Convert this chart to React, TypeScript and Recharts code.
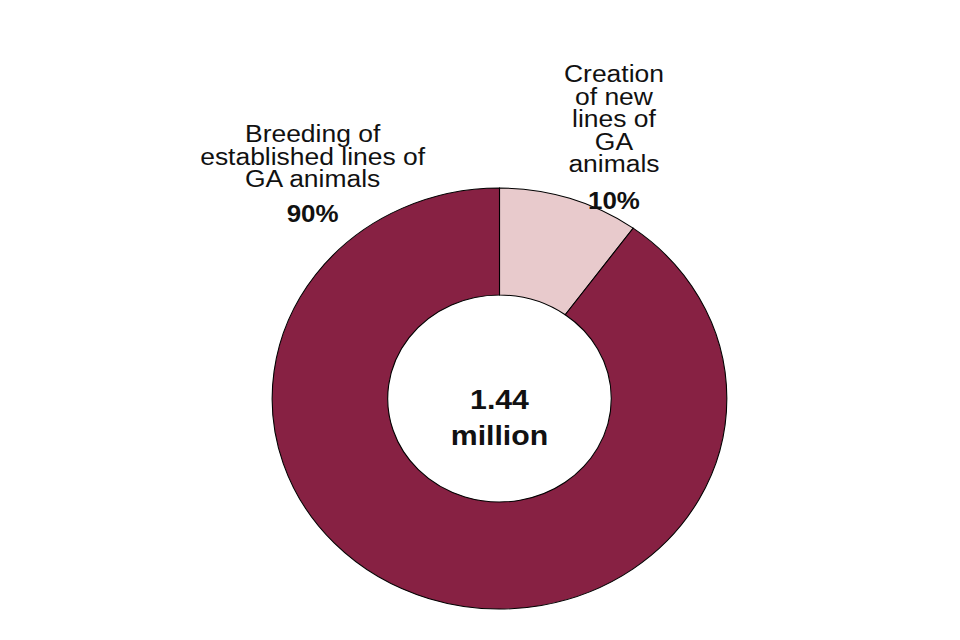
import React from 'react';
import { PieChart, Pie, Cell } from 'recharts';

const categories = ['Creation of new lines of GA animals', 'Breeding of established lines of GA animals'];
const shares = [10, 90];
const labelLines = [
  ['Creation', 'of new', 'lines of', 'GA', 'animals'],
  ['Breeding of', 'established lines of', 'GA animals'],
];
const totalLines = ['1.44', 'million'];

const colors = ['#E8CACC', '#872143'];

const data = categories.map((name, i) => ({ name, value: shares[i] }));

// label block positions relative to the pie centre (unscaled px)
const labelPos = [
  { dx: 106, top: -325, pctDy: -198 },
  { dx: -173, top: -265, pctDy: -185 },
];

const FONT = '"Liberation Sans", Arial, sans-serif';
const SX = 1.08;

const renderLabel = (props: any) => {
  const { cx, cy, index } = props;
  const pos = labelPos[index];
  const x = cx + pos.dx;
  return (
    <g key={`lbl-${index}`}>
      <text
        x={x}
        y={cy + pos.top}
        textAnchor="middle"
        dominantBaseline="central"
        fontFamily={FONT}
        fontSize={24.5}
        fill="#111"
      >
        {labelLines[index].map((t, i) => (
          <tspan key={i} x={x} dy={i === 0 ? 0 : 22.5}>
            {t}
          </tspan>
        ))}
      </text>
      <text
        x={x}
        y={cy + pos.pctDy}
        textAnchor="middle"
        dominantBaseline="central"
        fontFamily={FONT}
        fontSize={24}
        fontWeight="bold"
        fill="#111"
      >
        {shares[index]}%
      </text>
      {index === 0 && (
        <text
          x={cx}
          y={cy + 1}
          textAnchor="middle"
          dominantBaseline="central"
          fontFamily={FONT}
          fontSize={28}
          fontWeight="bold"
          fill="#111"
        >
          {totalLines.map((t, i) => (
            <tspan key={i} x={cx} dy={i === 0 ? 0 : 36}>
              {t}
            </tspan>
          ))}
        </text>
      )}
    </g>
  );
};

export default function App() {
  return (
    <div
      style={{
        position: 'absolute',
        left: 0,
        top: 0,
        width: 890,
        height: 640,
        background: '#fff',
        transform: `scaleX(${SX})`,
        transformOrigin: '0 0',
      }}
    >
      <PieChart width={890} height={640}>
        <Pie
          data={data}
          dataKey="value"
          nameKey="name"
          cx={457.5}
          cy={393.5}
          outerRadius={210.5}
          innerRadius={103.5}
          startAngle={90}
          endAngle={-270}
          stroke="#000"
          strokeWidth={1}
          label={renderLabel}
          labelLine={false}
          isAnimationActive={false}
        >
          {data.map((entry, index) => (
            <Cell key={`cell-${index}`} fill={colors[index]} />
          ))}
        </Pie>
      </PieChart>
    </div>
  );
}
